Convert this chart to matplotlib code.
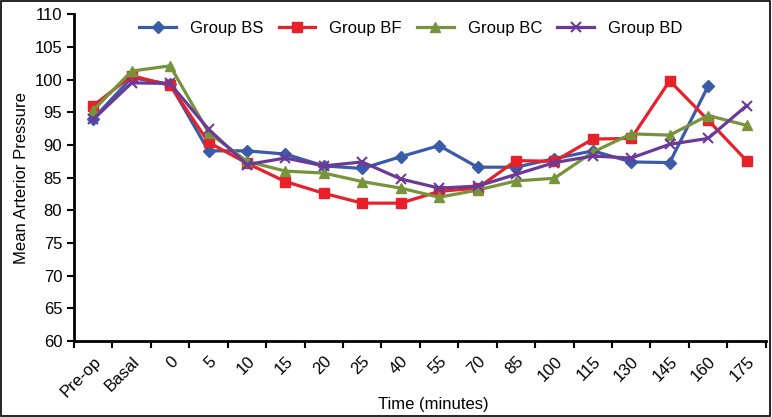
import numpy as np
import matplotlib.pyplot as plt
from matplotlib.patches import Rectangle

plt.rcParams['font.family'] = ['Liberation Sans', 'DejaVu Sans']

times = ['Pre-op', 'Basal', '0', '5', '10', '15', '20', '25', '40', '55',
         '70', '85', '100', '115', '130', '145', '160', '175']

group_bs = [94.0, 100.3, 99.3, 89.1, 89.1, 88.6, 86.8, 86.4, 88.2, 89.9,
            86.6, 86.6, 87.9, 89.1, 87.4, 87.3, 99.0, np.nan]
group_bf = [96.0, 100.6, 99.1, 90.4, 87.2, 84.4, 82.6, 81.1, 81.1, 82.9,
            83.4, 87.6, 87.5, 90.9, 91.0, 99.8, 93.8, 87.6]
group_bc = [95.3, 101.3, 102.1, 91.9, 87.5, 86.0, 85.7, 84.4, 83.4, 82.0,
            83.1, 84.5, 84.9, 88.9, 91.7, 91.5, 94.5, 93.0]
group_bd = [93.9, 99.5, 99.4, 92.4, 87.0, 88.0, 86.8, 87.4, 84.8, 83.4,
            83.7, 85.5, 87.3, 88.3, 88.0, 90.1, 91.0, 96.0]

fig = plt.figure(figsize=(7.72, 4.17), dpi=100)
ax = fig.add_axes([0.0959, 0.182, 0.896, 0.784])

x = np.arange(len(times))
ax.plot(x, group_bs, color='#3A5BA8', lw=2.3, marker='D', ms=6, label='Group BS')
ax.plot(x, group_bf, color='#E8202A', lw=2.3, marker='s', ms=7.5, label='Group BF')
ax.plot(x, group_bc, color='#77933C', lw=2.3, marker='^', ms=7.5, label='Group BC')
ax.plot(x, group_bd, color='#6B3A98', lw=2.3, marker='x', ms=7.5, mew=1.5, label='Group BD')

ax.set_xlim(-0.5, len(times) - 0.5)
ax.set_ylim(60, 110)
ax.set_yticks(np.arange(60, 111, 5))
ax.set_xticks(x)
ax.set_xticklabels(times, rotation=45, ha='right', rotation_mode='anchor')
ax.set_xticks(np.arange(-0.5, len(times), 1), minor=True)
ax.tick_params(axis='x', which='major', length=0, labelsize=12, pad=9)
ax.tick_params(axis='x', which='minor', length=5, width=1.5, direction='out')
ax.tick_params(axis='y', length=5, width=1.5, labelsize=12)

for s in ['top', 'right']:
    ax.spines[s].set_visible(False)
for s in ['left', 'bottom']:
    ax.spines[s].set_linewidth(2)

ax.set_ylabel('Mean Arterior Pressure', fontsize=12, labelpad=4)
ax.set_xlabel('Time (minutes)', fontsize=12, labelpad=-2, x=0.52)

ax.legend(loc='upper center', bbox_to_anchor=(0.487, 1.025), ncol=4, frameon=False,
          fontsize=12, handlelength=2.2, handletextpad=0.85, columnspacing=0.9)

fig.patches.append(Rectangle((0.001, 0.002), 0.997, 0.995, transform=fig.transFigure,
                             fill=False, edgecolor='black', lw=1.2))

fig.savefig('out.png', dpi=100)
